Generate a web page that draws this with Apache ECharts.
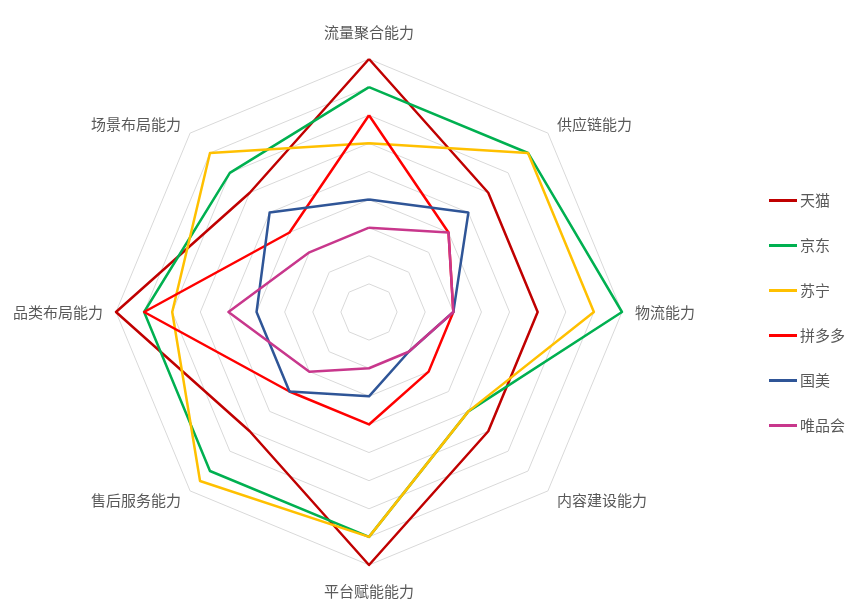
<!DOCTYPE html>
<html>
<head>
<meta charset="utf-8">
<script src="https://cdn.jsdelivr.net/npm/echarts@6/dist/echarts.min.js"></script>
<style>
  html, body { margin: 0; padding: 0; background: #fff; }
  #chart { width: 864px; height: 616px; }
</style>
</head>
<body>
<div id="chart"></div>
<script>
// indicators, counter-clockwise from the top (echarts radar order)
const indicators = ['流量聚合能力', '场景布局能力', '品类布局能力', '售后服务能力',
                    '平台赋能能力', '内容建设能力', '物流能力', '供应链能力'];

const names = ['天猫', '京东', '苏宁', '拼多多', '国美', '唯品会'];
const colors = ['#C00000', '#00B050', '#FFC000', '#FF0000', '#2F5597', '#C8378C'];

const tmall   = [9, 6, 9, 6, 9, 6, 6, 6];
const jd      = [8, 7, 8, 8, 8, 5, 9, 8];
const suning  = [6, 8, 7, 8.5, 8, 5, 8, 8];
const pdd     = [7, 4, 8, 4, 4, 3, 3, 4];
const gome    = [4, 5, 4, 4, 3, 2, 3, 5];
const vip     = [3, 3, 5, 3, 2, 2, 3, 4];

const values = [tmall, jd, suning, pdd, gome, vip];

const chart = echarts.init(document.getElementById('chart'));

// top and bottom labels sit a bit further out than the side ones
const vertical = [indicators[0], indicators[4]];

const option = {
  animation: false,
  legend: {
    orient: 'vertical',
    left: 764,
    top: 188,
    itemGap: 30,
    itemWidth: 28,
    itemHeight: 3,
    icon: 'rect',
    textStyle: { color: '#595959', fontSize: 15, fontFamily: 'Noto Sans CJK SC', padding: [0, 0, 0, -2] },
    data: names
  },
  radar: {
    center: [369, 312],
    radius: 253,
    startAngle: 90,
    shape: 'polygon',
    splitNumber: 9,
    indicator: indicators.map(n => ({ name: n, max: 9, min: 0 })),
    axisName: {
      color: '#595959', fontSize: 15, fontFamily: 'Noto Sans CJK SC',
      formatter: n => vertical.includes(n) ? '{v|' + n + '}' : n,
      rich: { v: { color: '#595959', fontSize: 15, fontFamily: 'Noto Sans CJK SC', padding: [6, 0, 6, 0] } }
    },
    nameGap: 13,
    axisLine: { show: false },
    splitLine: { lineStyle: { color: '#d9d9d9', width: 1 } },
    splitArea: { show: false }
  },
  series: [{
    type: 'radar',
    symbol: 'none',
    data: names.map((n, i) => ({
      name: n,
      value: values[i],
      lineStyle: { color: colors[i], width: 2.5 },
      itemStyle: { color: colors[i] }
    }))
  }]
};

chart.setOption(option);
</script>
</body>
</html>
